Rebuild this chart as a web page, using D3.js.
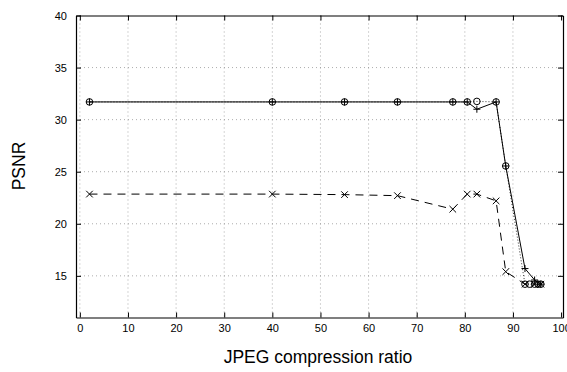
<!DOCTYPE html>
<html>
<head>
<meta charset="utf-8">
<script src="https://cdn.jsdelivr.net/npm/d3@7"></script>
<style>
  body { margin: 0; background: #fff; }
  svg text { font-family: "Liberation Sans", Arial, Helvetica, sans-serif; fill: #000; }
</style>
</head>
<body>
<div id="chart"></div>
<script>
// compression ratios and PSNR values
const ratios = [2, 40, 55, 66, 77.5, 80.5, 82.5, 86.5, 88.5, 92.5, 94.5, 95.8];
const psnrCircle = [31.7, 31.7, 31.7, 31.7, 31.7, 31.7, 31.75, 31.7, 25.55, 14.2, 14.2, 14.2];
const psnrPlus = [31.7, 31.7, 31.7, 31.7, 31.7, 31.7, 31.0, 31.7, 25.55, 15.7, 14.6, 14.2];
const psnrCross = [22.85, 22.85, 22.8, 22.7, 21.4, 22.85, 22.85, 22.2, 15.4, 14.2, 14.2, 14.2];
const extraCircles = [93.5, 95.2];
const xTicks = [0, 10, 20, 30, 40, 50, 60, 70, 80, 90, 100];
const yTicks = [15, 20, 25, 30, 35, 40];

const width = 567, height = 372;
const mLeft = 76, mRight = 563, mTop = 15.5, mBottom = 317.5;

const svg = d3.select("#chart").append("svg")
  .attr("width", width)
  .attr("height", height);

const x = d3.scaleLinear().domain([-0.8, 100.4]).range([mLeft, mRight]);
const y = d3.scaleLinear().domain([11, 40]).range([mBottom, mTop]);

// grid
const grid = svg.append("g")
  .attr("stroke", "#888")
  .attr("stroke-width", 0.7)
  .attr("stroke-dasharray", "1,3");
grid.selectAll(".gx").data(xTicks.filter(d => d < 100)).enter().append("line")
  .attr("x1", d => x(d)).attr("x2", d => x(d))
  .attr("y1", mTop).attr("y2", mBottom);
grid.selectAll(".gy").data(yTicks.filter(d => d < 40)).enter().append("line")
  .attr("x1", mLeft).attr("x2", mRight)
  .attr("y1", d => y(d)).attr("y2", d => y(d));

// axes (MATLAB-style box, ticks inward)
const xAxis = svg.append("g").attr("transform", `translate(0,${mBottom})`)
  .call(d3.axisBottom(x).tickValues(xTicks).tickSizeInner(-5).tickSizeOuter(0).tickPadding(7));
const xTop = svg.append("g").attr("transform", `translate(0,${mTop})`)
  .call(d3.axisTop(x).tickValues(xTicks).tickSizeInner(-5).tickSizeOuter(0).tickFormat(""));
const yAxis = svg.append("g").attr("transform", `translate(${mLeft},0)`)
  .call(d3.axisLeft(y).tickValues(yTicks).tickSizeInner(-5).tickSizeOuter(0).tickPadding(9));
const yRight = svg.append("g").attr("transform", `translate(${mRight},0)`)
  .call(d3.axisRight(y).tickValues(yTicks).tickSizeInner(-5).tickSizeOuter(0).tickFormat(""));

[xAxis, xTop, yAxis, yRight].forEach(g => {
  g.select(".domain").attr("stroke", "#000").attr("stroke-width", 1.2);
  g.selectAll(".tick line").attr("stroke", "#000");
  g.selectAll("text").style("font-size", "11px");
});

// series
const pts = vals => ratios.map((r, i) => [r, vals[i]]);
const line = d3.line().x(d => x(d[0])).y(d => y(d[1]));

svg.append("path").datum(pts(psnrCircle))
  .attr("d", line).attr("fill", "none").attr("stroke", "#000")
  .attr("stroke-width", 0.8).attr("stroke-dasharray", "1,2");
svg.append("path").datum(pts(psnrCross))
  .attr("d", line).attr("fill", "none").attr("stroke", "#000")
  .attr("stroke-width", 1).attr("stroke-dasharray", "8,6");
svg.append("path").datum(pts(psnrPlus))
  .attr("d", line).attr("fill", "none").attr("stroke", "#000")
  .attr("stroke-width", 1);

// markers
const circlePts = pts(psnrCircle).concat(extraCircles.map(r => [r, 14.2]));
svg.selectAll(".mc").data(circlePts).enter().append("circle")
  .attr("cx", d => x(d[0])).attr("cy", d => y(d[1])).attr("r", 3.3)
  .attr("fill", "none").attr("stroke", "#000").attr("stroke-width", 1);

svg.selectAll(".mp").data(pts(psnrPlus)).enter().append("path")
  .attr("d", d => { const cx = x(d[0]), cy = y(d[1]);
    return `M${cx - 3.5},${cy}H${cx + 3.5}M${cx},${cy - 3.5}V${cy + 3.5}`; })
  .attr("stroke", "#000").attr("stroke-width", 1);

svg.selectAll(".mx").data(pts(psnrCross)).enter().append("path")
  .attr("d", d => { const cx = x(d[0]), cy = y(d[1]), s = 3.3;
    return `M${cx - s},${cy - s}L${cx + s},${cy + s}M${cx - s},${cy + s}L${cx + s},${cy - s}`; })
  .attr("stroke", "#000").attr("stroke-width", 1);

// labels
svg.append("text").attr("x", 318).attr("y", 363)
  .attr("text-anchor", "middle").style("font-size", "17.5px")
  .text("JPEG compression ratio");
svg.append("text").attr("transform", `translate(25,166) rotate(-90)`)
  .attr("text-anchor", "middle").style("font-size", "17.5px")
  .text("PSNR");
</script>
</body>
</html>
